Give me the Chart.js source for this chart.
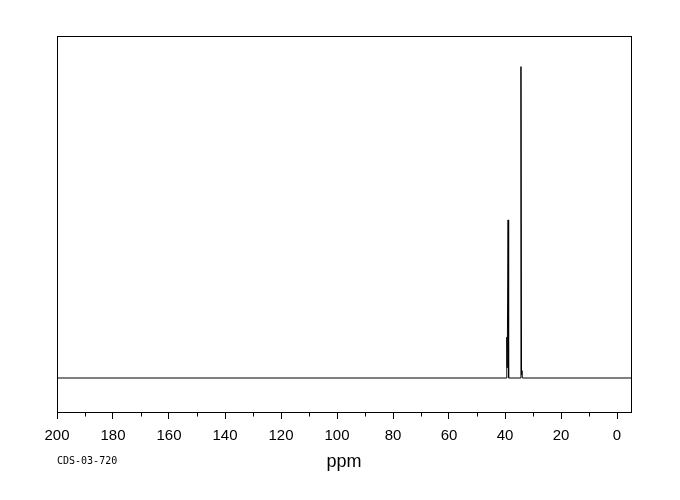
<!DOCTYPE html>
<html>
<head>
<meta charset="utf-8">
<script src="https://cdn.jsdelivr.net/npm/chart.js@4/dist/chart.umd.min.js"></script>
<style>
  body { margin: 0; background: #fff; }
  #wrap { position: relative; width: 680px; height: 500px; }
  #code { position: absolute; left: 57px; top: 455px; font: 10px "DejaVu Sans Mono", monospace; color: #000; }
</style>
</head>
<body>
<div id="wrap">
  <canvas id="spec" width="680" height="500"></canvas>
  <div id="code">CDS-03-720</div>
</div>
<script>
// spectrum trace (ppm, relative intensity)
const ppm = [200, 39.6, 39.35, 39.2, 38.9, 38.7, 34.6, 34.3, 34.1, 33.95, 33.8, -5];
const intensity = [0, 0, 12, 3, 46.5, 0, 0, 91.6, 1, 2.2, 0, 0];

// axis ticks
const majorTicks = [0, 20, 40, 60, 80, 100, 120, 140, 160, 180, 200];
const minorTicks = [10, 30, 50, 70, 90, 110, 130, 150, 170, 190];

const points = ppm.map((p, i) => ({ x: p, y: intensity[i] }));

// frame round the plot and the short minor ticks
const framePlugin = {
  id: 'frame',
  afterDraw(chart) {
    const { ctx, chartArea } = chart;
    const xs = chart.scales.x;
    ctx.save();
    ctx.strokeStyle = '#000';
    ctx.lineWidth = 1;
    ctx.strokeRect(Math.round(chartArea.left) + 0.5, Math.round(chartArea.top) + 0.5,
      Math.round(chartArea.right - chartArea.left), Math.round(chartArea.bottom - chartArea.top));
    ctx.beginPath();
    minorTicks.forEach(v => {
      const px = Math.round(xs.getPixelForValue(v)) + 0.5;
      ctx.moveTo(px, chartArea.bottom);
      ctx.lineTo(px, chartArea.bottom + 4.5);
    });
    ctx.stroke();
    ctx.restore();
  }
};

new Chart(document.getElementById('spec'), {
  type: 'line',
  data: {
    datasets: [{
      data: points,
      borderColor: '#000',
      borderWidth: 1,
      pointRadius: 0,
      tension: 0,
      fill: false
    }]
  },
  plugins: [framePlugin],
  options: {
    responsive: false,
    animation: false,
    devicePixelRatio: 1,
    layout: { padding: { top: 36, left: 57, right: 49, bottom: 0 } },
    plugins: { legend: { display: false }, tooltip: { enabled: false } },
    scales: {
      x: {
        type: 'linear',
        reverse: true,
        min: -5,
        max: 200,
        afterBuildTicks(scale) { scale.ticks = majorTicks.map(v => ({ value: v })); },
        afterFit(scale) { scale.height = 88; },
        border: { display: true, color: '#000', width: 1 },
        grid: {
          drawOnChartArea: false,
          drawTicks: true,
          tickLength: 7,
          tickColor: '#000'
        },
        ticks: {
          maxRotation: 0,
          autoSkip: false,
          padding: 8,
          color: '#000',
          font: { family: '"Liberation Sans", Arial, sans-serif', size: 15 },
          callback: v => String(v)
        },
        title: {
          display: true,
          text: 'ppm',
          color: '#000',
          font: { family: '"Liberation Sans", Arial, sans-serif', size: 18 },
          padding: { top: 0, bottom: 27 }
        }
      },
      y: {
        display: false,
        min: -10,
        max: 100.6
      }
    }
  }
});
</script>
</body>
</html>
